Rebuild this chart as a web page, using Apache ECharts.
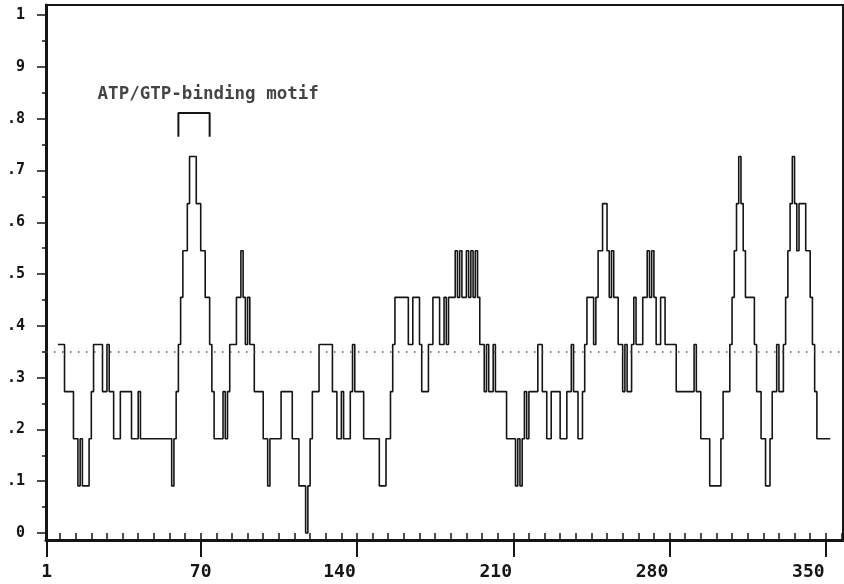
<!DOCTYPE html>
<html><head><meta charset="utf-8">
<script src="https://cdn.jsdelivr.net/npm/echarts@6/dist/echarts.min.js"></script>
<style>html,body{margin:0;padding:0;background:#fff}#c{width:844px;height:584px}</style>
</head><body><div id="c"></div>
<script>
// ---- data ----
const firstResidue = 6;
const profile = [
 .364,.364,.364,.273,.273,.273,.273,.182,.182,.091,
 .182,.091,.091,.091,.182,.273,.364,.364,.364,.364,
 .273,.273,.364,.273,.273,.182,.182,.182,.273,.273,
 .273,.273,.273,.182,.182,.182,.273,.182,.182,.182,
 .182,.182,.182,.182,.182,.182,.182,.182,.182,.182,
 .182,.091,.182,.273,.364,.455,.545,.545,.636,.727,
 .727,.727,.636,.636,.545,.545,.455,.455,.364,.273,
 .182,.182,.182,.182,.273,.182,.273,.364,.364,.364,
 .455,.455,.545,.455,.364,.455,.364,.364,.273,.273,
 .273,.273,.182,.182,.091,.182,.182,.182,.182,.182,
 .273,.273,.273,.273,.273,.182,.182,.182,.091,.091,
 .091,0,.091,.182,.273,.273,.273,.364,.364,.364,
 .364,.364,.364,.273,.273,.182,.182,.273,.182,.182,
 .182,.273,.364,.273,.273,.273,.273,.182,.182,.182,
 .182,.182,.182,.182,.091,.091,.091,.182,.182,.273,
 .364,.455,.455,.455,.455,.455,.455,.364,.364,.455,
 .455,.455,.364,.273,.273,.273,.364,.364,.455,.455,
 .455,.364,.364,.455,.364,.455,.455,.455,.545,.455,
 .545,.455,.455,.545,.455,.545,.455,.545,.455,.364,
 .364,.273,.364,.273,.273,.364,.273,.273,.273,.273,
 .273,.182,.182,.182,.182,.091,.182,.091,.182,.273,
 .182,.273,.273,.273,.273,.364,.364,.273,.273,.182,
 .182,.273,.273,.273,.273,.182,.182,.182,.273,.273,
 .364,.273,.273,.182,.182,.273,.364,.455,.455,.455,
 .364,.455,.545,.545,.636,.636,.545,.455,.545,.455,
 .455,.364,.364,.273,.364,.273,.273,.364,.455,.364,
 .364,.364,.455,.455,.545,.455,.545,.455,.364,.364,
 .455,.455,.364,.364,.364,.364,.364,.273,.273,.273,
 .273,.273,.273,.273,.273,.364,.273,.273,.182,.182,
 .182,.182,.091,.091,.091,.091,.091,.182,.273,.273,
 .273,.364,.455,.545,.636,.727,.636,.545,.455,.455,
 .455,.455,.364,.273,.273,.182,.182,.091,.091,.182,
 .273,.273,.364,.273,.273,.364,.455,.545,.636,.727,
 .636,.545,.636,.636,.636,.545,.545,.455,.364,.273,
 .182,.182,.182,.182,.182,.182,.182
];
const xTickValues = [1, 70, 140, 210, 280, 350];
const xTickLabels = ['1', '70', '140', '210', '280', '350'];
const yTickValues = [0, 0.1, 0.2, 0.3, 0.4, 0.5, 0.6, 0.7, 0.8, 0.9, 1];
const yTickLabels = ['0', '.1', '.2', '.3', '.4', '.5', '.6', '.7', '.8', '9', '1'];
const referenceLevel = 0.352;
const motifRange = [60, 74];
const motifBracketLevels = [0.765, 0.811];
const motifLabel = 'ATP/GTP-binding motif';
const motifLabelAnchor = [23.8, 0.847];

// ---- axis settings ----
const xMin = 0.7, xMax = 357.7;
const yMin = -0.0135, yMax = 1.0195;
const minorX = [];
for (let r = 7; r <= 357; r += 7) minorX.push(r);
const minorY = [];
for (let i = 0; i < 10; i++) minorY.push(+(0.05 + i * 0.1).toFixed(2));

const FONT = "'DejaVu Sans Mono', 'Liberation Mono', monospace";
const INK = '#151515';

function labelFor(values, labels) {
  return function (v) {
    const i = values.findIndex(t => Math.abs(t - v) < 1e-6);
    return i >= 0 ? labels[i] : '';
  };
}
const xLabelText = labelFor(xTickValues, xTickLabels);
const xRichBase = {color: INK, fontFamily: FONT, fontWeight: 'bold', fontSize: 18};

const chart = echarts.init(document.getElementById('c'), null, {renderer: 'canvas'});
chart.setOption({
  animation: false,
  backgroundColor: '#fff',
  grid: {left: 46, right: 1, top: 5, bottom: 44, show: true, borderColor: INK, borderWidth: 2, backgroundColor: 'transparent'},
  xAxis: [{
    type: 'value', min: xMin, max: xMax, position: 'bottom',
    axisLine: {show: true, onZero: false, lineStyle: {color: INK, width: 3}},
    axisTick: {show: true, customValues: xTickValues, length: 17, lineStyle: {color: INK, width: 2}},
    axisLabel: {show: true, customValues: xTickValues,
      formatter: function (v) {
        const t = xLabelText(v);
        return t.length >= 3 ? '{r|' + t + '}' : '{c|' + t + '}';
      },
      rich: {
        r: Object.assign({padding: [0, 35, 0, 0]}, xRichBase),
        c: Object.assign({}, xRichBase)
      },
      margin: 23, color: INK, fontFamily: FONT, fontWeight: 'bold', fontSize: 18},
    splitLine: {show: false}
  }, {
    type: 'value', min: xMin, max: xMax, position: 'bottom',
    axisLine: {show: false},
    axisTick: {show: true, customValues: minorX, length: 7, lineStyle: {color: INK, width: 1.5}},
    axisLabel: {show: false},
    splitLine: {show: false}
  }],
  yAxis: [{
    type: 'value', min: yMin, max: yMax, position: 'left',
    axisLine: {show: true, onZero: false, lineStyle: {color: INK, width: 3}},
    axisTick: {show: true, customValues: yTickValues, length: 9, lineStyle: {color: INK, width: 1.5}},
    axisLabel: {show: true, customValues: yTickValues, formatter: labelFor(yTickValues, yTickLabels),
      margin: 21, color: INK, fontFamily: FONT, fontWeight: 'bold', fontSize: 15},
    splitLine: {show: false}
  }, {
    type: 'value', min: yMin, max: yMax, position: 'left',
    axisLine: {show: false},
    axisTick: {show: true, customValues: minorY, length: 4, lineStyle: {color: INK, width: 1.5}},
    axisLabel: {show: false},
    splitLine: {show: false}
  }],
  series: [{
    type: 'line', step: 'end', xAxisIndex: 0, yAxisIndex: 0,
    data: profile.map((v, i) => [firstResidue + i, v]),
    showSymbol: false, symbol: 'none',
    lineStyle: {color: INK, width: 1.6},
    markLine: {
      silent: true, symbol: 'none', label: {show: false},
      lineStyle: {color: '#555', width: 1.5, type: [1.5, 6.5]},
      data: [{yAxis: referenceLevel}]
    }
  }, {
    type: 'line', xAxisIndex: 0, yAxisIndex: 0,
    data: [[motifRange[0], motifBracketLevels[0]], [motifRange[0], motifBracketLevels[1]],
           [motifRange[1], motifBracketLevels[1]], [motifRange[1], motifBracketLevels[0]]],
    showSymbol: false, symbol: 'none',
    lineStyle: {color: INK, width: 2}
  }, {
    type: 'scatter', xAxisIndex: 0, yAxisIndex: 0,
    data: [motifLabelAnchor], symbolSize: 0,
    label: {show: true, position: 'right', distance: 0, formatter: motifLabel,
      color: INK, fontFamily: FONT, fontSize: 17.5, fontWeight: 'bold'}
  }]
});
</script></body></html>
